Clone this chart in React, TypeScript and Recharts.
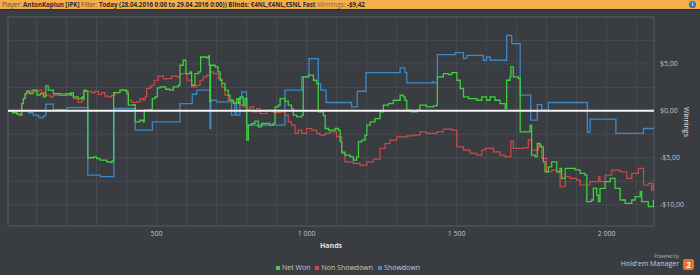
import {
  LineChart,
  Line,
  XAxis,
  YAxis,
  CartesianGrid,
  ReferenceLine,
  ReferenceArea,
} from "recharts";

// [hand, cumulative winnings $]
const netWon: [number, number][] = [
  [5, 0], [20, -0.2], [35, -0.35], [45, -0.46], [51, 0.78], [56, 1.31], [62, 1.8], [67, 2.09],
  [78, 1.84], [89, 2.2], [101, 1.67], [112, 1.84], [123, 1.49], [131, 2.66], [139, 2.2], [156, 1.84],
  [178, 1.67], [201, 1.84], [212, 1.67], [215, 1.95], [223, 1.49], [239, 1.31], [251, 1.49], [256, 1.31],
  [258, 2.2], [265, 2.09], [271, -5.0], [290, -4.9], [301, -5.1], [312, -5.25], [334, -5.43], [345, -5.5],
  [352, -5.32], [357, 1.95], [378, 2.2], [401, 1.84], [406, 0.6], [423, 0.67], [429, -1.17], [445, -1.0],
  [456, -1.17], [459, 0.07], [478, 0.14], [486, 1.31], [495, 1.49], [503, 2.45], [512, 2.55], [530, 2.3],
  [545, 2.2], [556, 2.55], [573, 2.73], [578, 4.86], [589, 5.39], [598, 3.97], [612, 4.15], [617, 2.73],
  [628, 3.97], [640, 4.15], [647, 5.74], [667, 5.64], [673, 5.85], [676, 4.86], [678, 0.96], [680, 4.86],
  [695, 4.68], [705, 4.15], [712, 3.26], [718, 2.9], [728, 2.2], [739, 1.67], [745, 1.13], [756, 0.78],
  [767, 1.31], [773, 0.78], [778, 1.49], [789, 0.6], [795, 1.31], [801, -3.12], [806, -1.52], [817, -1.35],
  [828, -1.1], [839, -1.7], [850, -1.35], [878, -1.52], [889, -1.35], [895, 0.43], [906, 0.6], [912, 1.31],
  [928, 1.03], [939, 0.6], [950, 0.2], [956, -0.46], [967, -0.64], [984, -0.46], [989, 3.62], [1006, 3.8],
  [1023, 3.26], [1034, 2.9], [1039, -0.1], [1056, -0.5], [1062, -1.88], [1073, -2.06], [1095, -1.88],
  [1106, -2.06], [1112, -3.3], [1117, -4.4], [1128, -4.72], [1145, -4.9], [1156, -5.25], [1167, -4.9],
  [1173, -3.3], [1184, -3.12], [1195, -2.6], [1201, -1.52], [1212, -1.17], [1228, -0.82], [1245, -0.1],
  [1256, 0.6], [1273, 0.78], [1289, 1.13], [1312, 1.67], [1323, 1.49], [1328, 1.13], [1334, 0.07],
  [1350, -0.1], [1367, 0.07], [1378, 0.6], [1400, 0.43], [1423, 0.53], [1434, 0.6], [1436, 3.62],
  [1456, 3.97], [1473, 3.87], [1484, 4.08], [1501, 3.26], [1512, 2.38], [1523, 1.49], [1540, 1.31],
  [1567, 1.13], [1584, 1.49], [1600, 1.13], [1612, 1.49], [1628, 1.13], [1645, 0.78], [1662, 0.25],
  [1667, 3.26], [1678, 3.62], [1681, 4.68], [1689, 3.62], [1706, 3.44], [1712, -2.23], [1745, -1.52],
  [1750, -4.72], [1762, -4.9], [1769, -3.48], [1778, -3.83], [1789, -5.43], [1795, -6.49], [1806, -5.96],
  [1817, -5.43], [1834, -6.49], [1845, -6.13], [1850, -7.2], [1862, -6.13], [1895, -6.3], [1912, -6.67],
  [1928, -6.84], [1934, -9.68], [1950, -9.5], [1956, -8.26], [1967, -8.97], [1973, -9.68], [1978, -8.26],
  [1995, -7.55], [2012, -7.2], [2028, -8.26], [2045, -9.5], [2062, -9.86], [2084, -9.5], [2095, -9.15],
  [2112, -8.62], [2117, -9.68], [2139, -10.2], [2156, -9.5],
];

const nonShowdown: [number, number][] = [
  [5, 0], [20, -0.2], [35, -0.35], [45, -0.46], [51, 0.78], [56, 1.31], [62, 1.8], [67, 2.09],
  [73, 1.84], [84, 2.2], [95, 2.02], [106, 2.2], [117, 1.95], [128, 1.67], [145, 1.49], [156, 1.67],
  [173, 1.84], [201, 1.67], [223, 1.31], [239, 0.89], [251, 1.13], [258, 2.09], [284, 1.95], [295, 2.09],
  [306, 1.74], [317, 1.95], [328, 1.56], [339, 1.49], [351, 1.67], [362, 1.95], [378, 2.2], [395, 2.09],
  [406, 1.13], [417, 0.89], [434, 0.96], [445, 1.31], [456, 1.13], [462, 1.49], [467, 2.38], [478, 2.55],
  [484, 2.73], [492, 3.26], [506, 3.69], [523, 3.4], [534, 3.44], [550, 3.69], [567, 3.62], [578, 3.87],
  [584, 3.97], [601, 3.26], [617, 2.55], [634, 2.73], [645, 3.26], [656, 3.62], [667, 3.8], [678, 4.15],
  [690, 3.97], [706, 3.44], [717, 2.55], [728, 1.67], [739, 1.13], [750, 0.96], [761, 0.89], [778, 0.6],
  [789, 0.43], [800, 0.18], [812, 0.43], [823, -0.1], [834, 0.25], [845, -0.28], [867, 0.07], [889, -0.18],
  [912, -0.1], [928, -0.46], [939, -1.17], [950, -1.52], [962, -2.41], [973, -2.06], [984, -2.41],
  [1000, -1.88], [1017, -2.06], [1034, -2.41], [1045, -2.59], [1062, -2.41], [1078, -2.23], [1100, -2.77],
  [1117, -4.54], [1128, -5.43], [1156, -5.6], [1178, -5.78], [1201, -5.43], [1223, -5.14], [1245, -4.0],
  [1262, -3.48], [1278, -3.12], [1300, -2.77], [1334, -2.66], [1356, -2.59], [1378, -2.23], [1400, -2.41],
  [1434, -2.23], [1456, -1.95], [1484, -2.06], [1501, -3.83], [1523, -4.18], [1545, -4.54], [1567, -4.72],
  [1584, -4.18], [1595, -4.0], [1623, -4.37], [1645, -4.72], [1662, -4.9], [1681, -3.23], [1689, -4.0],
  [1723, -3.94], [1739, -3.12], [1750, -4.18], [1773, -3.65], [1784, -5.07], [1800, -6.49], [1817, -6.31],
  [1834, -6.49], [1845, -8.09], [1862, -7.02], [1878, -7.2], [1900, -7.38], [1912, -7.9], [1945, -7.55],
  [1973, -7.02], [1978, -7.55], [1995, -6.84], [2017, -6.31], [2045, -6.49], [2067, -7.2], [2084, -6.67],
  [2106, -6.13], [2123, -7.9], [2139, -7.73], [2150, -8.44], [2156, -7.7],
];

const showdown: [number, number][] = [
  [5, 0], [73, -0.2], [89, -0.46], [106, -0.64], [112, -0.75], [123, -0.53], [131, 0.71], [156, 0.14],
  [201, 0.35], [271, -6.84], [312, -7.0], [358, 0.25], [429, -2.06], [486, -1.17], [578, 0.78],
  [619, 1.77], [634, 2.2], [678, -1.88], [681, 1.13], [700, 0.96], [750, -0.46], [761, 0.6], [767, -0.46],
  [778, 1.31], [784, 2.02], [800, -1.52], [928, 2.2], [984, 3.62], [1008, 5.57], [1039, 2.91],
  [1047, 2.2], [1065, 0.89], [1150, 0.43], [1169, 2.09], [1198, 4.08], [1312, 4.57], [1328, 4.1],
  [1334, 2.98], [1420, 3.1], [1423, 2.98], [1436, 5.99], [1495, 6.2], [1523, 5.6], [1534, 5.92],
  [1589, 5.39], [1600, 5.74], [1612, 5.39], [1667, 8.05], [1684, 7.16], [1712, 1.67], [1747, -0.99],
  [1769, 0.67], [1784, 0.07], [1806, 0.89], [1936, -2.3], [1945, -0.89], [2031, -2.41], [2123, -1.88],
  [2158, -1.88],
];

const handTicks = [
  100, 200, 300, 400, 500, 600, 700, 800, 900, 1000, 1100,
  1200, 1300, 1400, 1500, 1600, 1700, 1800, 1900, 2000, 2100,
];
const winningsTicks = [-10, -7.5, -5, -2.5, 0, 2.5, 5, 7.5];

const legendItems = [
  { name: "Net Won", color: "#3fcf3f" },
  { name: "Non Showdown", color: "#d04848" },
  { name: "Showdown", color: "#3d88c8" },
];

const X_DOMAIN: [number, number] = [5, 2158];
const Y_DOMAIN: [number, number] = [-12.27, 10];

const toRows = (pts: [number, number][]) => pts.map(([hand, v]) => ({ hand, v }));

const fmtHands = (v: number) => {
  if (v % 500 !== 0) return "";
  if (v < 1000) return String(v);
  return `${Math.floor(v / 1000)} ${String(v % 1000).padStart(3, "0")}`;
};

const fmtMoney = (v: number) => {
  if (v % 5 !== 0) return "";
  const s = "$" + Math.abs(v).toFixed(2).replace(".", ",");
  return v < 0 ? "-" + s : s;
};

const FONT = "'Open Sans', 'DejaVu Sans', sans-serif";

export default function App() {
  return (
    <div
      style={{
        position: "fixed",
        top: 0,
        left: 0,
        width: 700,
        height: 275,
        background: "#393c41",
        fontFamily: FONT,
        overflow: "hidden",
      }}
    >
      {/* filter bar */}
      <div
        style={{
          position: "absolute",
          top: 0,
          left: 0,
          width: 700,
          height: 9,
          background: "#f4ae4c",
          borderBottom: "1px solid #2c2e32",
          fontSize: 6.2,
          lineHeight: "9px",
          color: "#2b2b2b",
          paddingLeft: 2,
          whiteSpace: "nowrap",
        }}
      >
        <span style={{ color: "#5c4a2c" }}>Player: </span>
        <b>AntonKaplun [IPK]</b>
        <span style={{ color: "#5c4a2c" }}> Filter: </span>
        <b>Today (28.04.2016 0:00 to 29.04.2016 0:00)) Blinds: €4NL,€4NL,€5NL Fast</b>
        <span style={{ color: "#7d6640" }}> Winnings: </span>
        <b>-$9,42</b>
        <div
          style={{
            position: "absolute",
            right: 6,
            top: 1,
            width: 7,
            height: 7,
            borderRadius: 4,
            background: "#2f6fb8",
            color: "#fff",
            fontSize: 5,
            lineHeight: "7px",
            textAlign: "center",
            fontWeight: 700,
          }}
        >
          i
        </div>
      </div>

      <div style={{ position: "absolute", top: 0, left: 0 }}>
        <LineChart width={700} height={275} margin={{ top: 17, right: 0, bottom: 29, left: 8 }}>
          <CartesianGrid stroke="#474a50" strokeWidth={1} />
          <ReferenceArea
            x1={X_DOMAIN[0]}
            x2={X_DOMAIN[1]}
            y1={Y_DOMAIN[0]}
            y2={Y_DOMAIN[1]}
            stroke="#55585e"
            fill="none"
            fillOpacity={0}
          />
          <XAxis
            type="number"
            dataKey="hand"
            domain={X_DOMAIN}
            allowDataOverflow
            ticks={handTicks}
            interval={0}
            tickFormatter={fmtHands}
            tick={{ fontSize: 7, fill: "#c4c4c4", fontFamily: FONT }}
            tickLine={false}
            tickSize={3}
            axisLine={false}
            height={20}
            label={{
              value: "Hands",
              position: "bottom",
              offset: -3,
              style: { fontSize: 7, fill: "#e0e0e0", fontWeight: 700, fontFamily: FONT },
            }}
          />
          <YAxis
            orientation="right"
            type="number"
            domain={Y_DOMAIN}
            allowDataOverflow
            ticks={winningsTicks}
            interval={0}
            tickFormatter={fmtMoney}
            tick={{ fontSize: 7, fill: "#c4c4c4", fontFamily: FONT }}
            tickLine={false}
            tickSize={4}
            axisLine={false}
            width={46}
          />
          <Line
            data={toRows(showdown)}
            dataKey="v"
            type="stepAfter"
            stroke="#3d88c8"
            strokeWidth={1.3}
            dot={false}
            isAnimationActive={false}
          />
          <Line
            data={toRows(nonShowdown)}
            dataKey="v"
            type="stepAfter"
            stroke="#d04848"
            strokeWidth={1.2}
            dot={false}
            isAnimationActive={false}
          />
          <Line
            data={toRows(netWon)}
            dataKey="v"
            type="stepAfter"
            stroke="#3fcf3f"
            strokeWidth={1.3}
            dot={false}
            isAnimationActive={false}
          />
          <ReferenceLine y={0} stroke="#f2f2f2" strokeWidth={2} />
        </LineChart>
      </div>

      {/* y axis title */}
      <div
        style={{
          position: "absolute",
          left: 686,
          top: 122,
          transform: "translate(-50%, -50%) rotate(90deg)",
          fontSize: 7,
          color: "#e0e0e0",
          whiteSpace: "nowrap",
          lineHeight: "8px",
        }}
      >
        Winnings
      </div>

      {/* legend */}
      <div
        style={{
          position: "absolute",
          top: 264,
          left: 276,
          display: "flex",
          alignItems: "center",
          fontSize: 7,
          color: "#c8c8c8",
          whiteSpace: "nowrap",
          lineHeight: "8px",
        }}
      >
        {legendItems.map((it) => (
          <span key={it.name} style={{ display: "flex", alignItems: "center", marginRight: 5 }}>
            <span
              style={{ width: 4, height: 4, background: it.color, marginRight: 2, display: "inline-block" }}
            />
            {it.name}
          </span>
        ))}
      </div>

      {/* branding */}
      <div
        style={{
          position: "absolute",
          right: 21,
          top: 253,
          textAlign: "right",
          color: "#b8b8b8",
          whiteSpace: "nowrap",
        }}
      >
        <div style={{ fontSize: 4.5, lineHeight: "6px" }}>Powered by</div>
        <div style={{ fontSize: 7, lineHeight: "9px", color: "#d0d0d0" }}>Hold'em Manager</div>
      </div>
      <div
        style={{
          position: "absolute",
          left: 683,
          top: 259,
          width: 11,
          height: 11,
          borderRadius: 2,
          background: "#e8702a",
          color: "#fff",
          fontSize: 8,
          fontWeight: 700,
          lineHeight: "11px",
          textAlign: "center",
        }}
      >
        2
      </div>
    </div>
  );
}
